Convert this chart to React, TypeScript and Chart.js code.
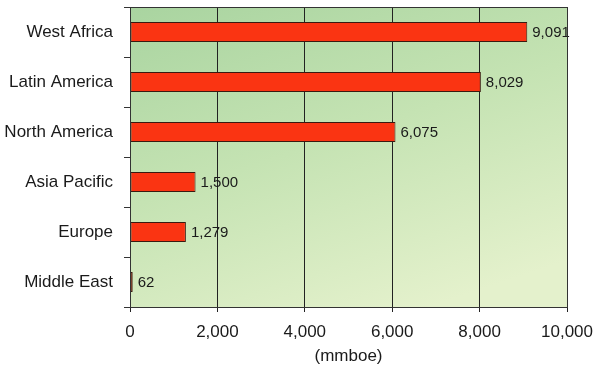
import React, { useEffect, useRef } from "react";
import { Chart, registerables } from "chart.js";

Chart.register(...registerables);

const regions = ["West Africa", "Latin America", "North America", "Asia Pacific", "Europe", "Middle East"];
const reserves = [9091, 8029, 6075, 1500, 1279, 62];
const xTickValues = [0, 2000, 4000, 6000, 8000, 10000];
const axisTitle = "(mmboe)";

const FONT = "'Liberation Sans', Arial, sans-serif";
const TEXT = "#1a1a1a";

const bgPlugin = {
  id: "plotBg",
  beforeDraw(chart: any) {
    const { ctx, chartArea: a } = chart;
    if (!a) return;
    ctx.save();
    ctx.fillStyle = "#ffffff";
    ctx.fillRect(0, 0, chart.width, chart.height);
    const g = ctx.createLinearGradient(a.left, a.top, a.left + 120, a.bottom + 60);
    g.addColorStop(0, "#a9d4a0");
    g.addColorStop(0.5, "#c5e3b3");
    g.addColorStop(1, "#e4f1cc");
    ctx.fillStyle = g;
    ctx.fillRect(a.left, a.top, a.right - a.left, a.bottom - a.top);
    ctx.restore();
  },
  afterDraw(chart: any) {
    const { ctx, chartArea: a } = chart;
    ctx.save();
    ctx.strokeStyle = "#333333";
    ctx.lineWidth = 1;
    ctx.strokeRect(Math.round(a.left) + 0.5, Math.round(a.top) + 0.5, Math.round(a.right - a.left), Math.round(a.bottom - a.top));
    ctx.restore();
  },
};

const valueLabels = {
  id: "valueLabels",
  afterDatasetsDraw(chart: any) {
    const { ctx } = chart;
    const meta = chart.getDatasetMeta(0);
    ctx.save();
    ctx.font = `15px ${FONT}`;
    ctx.fillStyle = TEXT;
    ctx.textAlign = "left";
    ctx.textBaseline = "middle";
    meta.data.forEach((bar: any, i: number) => {
      const v = chart.data.datasets[0].data[i] as number;
      ctx.fillText(v.toLocaleString("en-US"), bar.x + 5, bar.y + 1);
    });
    ctx.restore();
  },
};

export default function App() {
  const ref = useRef<HTMLCanvasElement>(null);
  useEffect(() => {
    if (!ref.current) return;
    const chart = new Chart(ref.current, {
      type: "bar",
      data: {
        labels: regions,
        datasets: [
          {
            data: reserves,
            backgroundColor: "#fa3412",
            borderColor: "#3a1a10",
            borderWidth: 1,
            borderSkipped: false,
            barPercentage: 0.4,
            categoryPercentage: 1,
          },
        ],
      },
      options: {
        indexAxis: "y",
        responsive: false,
        animation: false,
        layout: { padding: { top: 7, right: 33, left: 0, bottom: 0 } },
        plugins: { legend: { display: false }, tooltip: { enabled: false } },
        scales: {
          x: {
            min: 0,
            max: 10000,
            afterBuildTicks: (s: any) => {
              s.ticks = xTickValues.map((v) => ({ value: v }));
            },
            afterFit: (s: any) => {
              s.height = 61;
              s.paddingLeft = 0;
              s.paddingRight = 0;
            },
            ticks: {
              color: TEXT,
              font: { family: FONT, size: 17 },
              padding: 10,
              maxRotation: 0,
              callback: (v: any) => Number(v).toLocaleString("en-US"),
            },
            grid: { color: "#222222", lineWidth: 1, tickLength: 5, drawTicks: true },
            border: { display: true, color: "#333333" },
            title: {
              display: true,
              text: axisTitle,
              color: TEXT,
              font: { family: FONT, size: 17 },
              padding: { top: 0, bottom: 1 },
            },
          },
          y: {
            afterFit: (s: any) => {
              s.width = 130;
              s.paddingTop = 0;
              s.paddingBottom = 0;
            },
            ticks: {
              color: TEXT,
              font: { family: FONT, size: 17 },
              padding: 11,
            },
            grid: { drawOnChartArea: false, color: "#333333", tickLength: 6, offset: true },
            border: { display: true, color: "#333333" },
          },
        },
      },
      plugins: [bgPlugin, valueLabels],
    });
    return () => chart.destroy();
  }, []);
  return (
    <div style={{ position: "absolute", left: 0, top: 0, width: 600, height: 368 }}>
      <canvas ref={ref} width={600} height={368} />
    </div>
  );
}
